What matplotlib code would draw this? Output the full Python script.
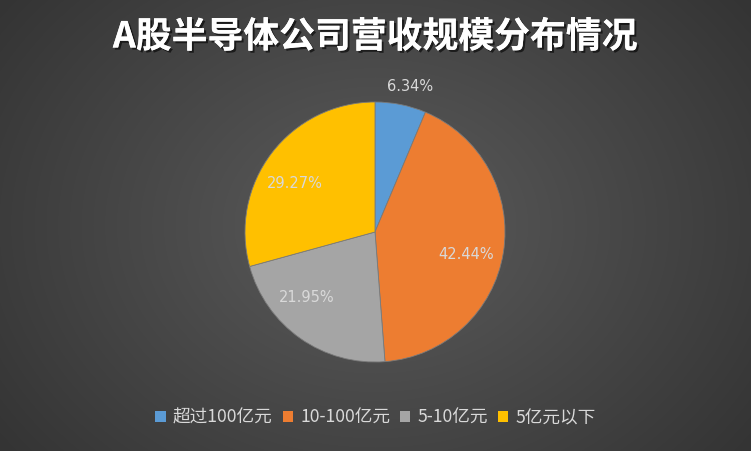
import numpy as np
import matplotlib
matplotlib.use("Agg")
import matplotlib.pyplot as plt
import matplotlib.patheffects as pe
from matplotlib.patches import Patch

plt.rcParams['font.family'] = ['Noto Sans CJK SC', 'DejaVu Sans']

title = "A股半导体公司营收规模分布情况"
categories = ["超过100亿元", "10-100亿元", "5-10亿元", "5亿元以下"]
values = [6.34, 42.44, 21.95, 29.27]
colors = ["#5B9BD5", "#ED7D31", "#A5A5A5", "#FFC000"]
label_dist = [1.15, 0.72, 0.73, 0.72]
label_ang_off = [-2, -5, -11, 6]

W, H = 751, 451
fig = plt.figure(figsize=(W / 100, H / 100), dpi=100)

# radial gradient background
bg = fig.add_axes([0, 0, 1, 1])
yy, xx = np.mgrid[0:H, 0:W]
d = np.sqrt(((xx - 375) / 470) ** 2 + ((yy - 225) / 370) ** 2)
d = np.clip(d, 0, 1)
c0 = np.array([0x5c, 0x5c, 0x5c]) / 255
c1 = np.array([0x34, 0x34, 0x34]) / 255
img = c0[None, None, :] * (1 - d[..., None]) + c1[None, None, :] * d[..., None]
bg.imshow(img, extent=[0, 1, 0, 1], aspect='auto', origin='upper')
bg.axis('off')

cx, cy, r = 375 / W, 1 - 232 / H, 130
ax = fig.add_axes([cx - r / W, cy - r / H, 2 * r / W, 2 * r / H])
wedges, texts = ax.pie(values, colors=colors, startangle=90, counterclock=False,
                       radius=1.0, wedgeprops=dict(edgecolor='#7a7a7a', linewidth=0.6))
for w, v, dist, off in zip(wedges, values, label_dist, label_ang_off):
    ang = np.deg2rad((w.theta1 + w.theta2) / 2 + off)
    ax.text(dist * np.cos(ang), dist * np.sin(ang), f"{v:.2f}%", ha='center', va='center',
            color='#d9d9d9', fontsize=10.5, family=['DejaVu Sans'])
ax.set_xlim(-1, 1)
ax.set_ylim(-1, 1)
ax.set_aspect('auto')
ax.axis('off')

fig.text(0.5, 1 - 37 / H, title, ha='center', va='center', color='white',
         fontsize=25.8, fontweight='bold',
         path_effects=[pe.withSimplePatchShadow(offset=(1.5, -1.5), shadow_rgbFace='black', alpha=0.6),
                       pe.Normal()])

handles = [Patch(facecolor=c, edgecolor='none') for c in colors]
leg = fig.legend(handles, categories, loc='center', bbox_to_anchor=(0.5, 1 - 418 / H),
                 ncol=4, frameon=False, fontsize=12.7, handlelength=0.6, handleheight=0.6,
                 handletextpad=0.4, columnspacing=0.55, labelcolor='#d9d9d9')

fig.savefig("out.png", dpi=100)
